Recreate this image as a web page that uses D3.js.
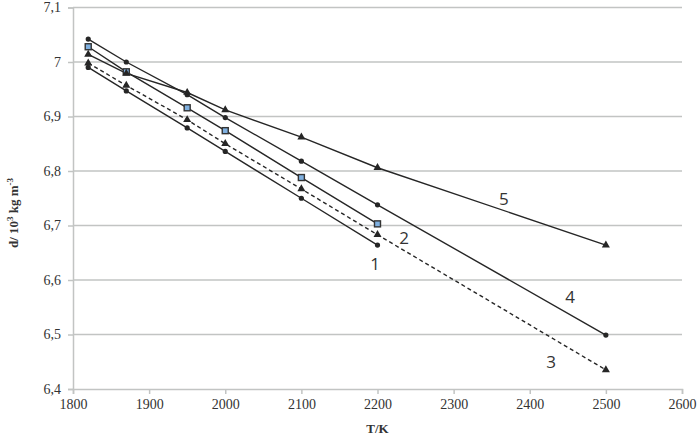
<!DOCTYPE html>
<html>
<head>
<meta charset="utf-8">
<script src="https://cdn.jsdelivr.net/npm/d3@7"></script>
<style>
  html, body { margin: 0; padding: 0; background: #fff; }
  svg { display: block; }
</style>
</head>
<body>
<svg id="chart" width="700" height="437"></svg>
<script>
// ---- data ----
const temps = [1820, 1870, 1950, 2000, 2100, 2200, 2500];
const series1 = [6.990, 6.947, 6.879, 6.836, 6.750, 6.664, null];
const series2 = [7.028, 6.982, 6.916, 6.874, 6.788, 6.703, null];
const series3 = [6.998, 6.957, 6.894, 6.850, 6.767, 6.683, 6.435];
const series4 = [7.042, 7.000, 6.940, 6.898, 6.818, 6.738, 6.499];
const series5 = [7.014, 6.979, 6.944, 6.912, 6.862, 6.806, 6.664];
const seriesNames = ["1", "2", "3", "4", "5"];
const labelPos = [[2197, 6.630], [2235, 6.678], [2428, 6.450], [2453, 6.569], [2366, 6.750]];
const xTicks = [1800, 1900, 2000, 2100, 2200, 2300, 2400, 2500, 2600];
const yTicks = [6.4, 6.5, 6.6, 6.7, 6.8, 6.9, 7.0, 7.1];

const allSeries = [series1, series2, series3, series4, series5];
const markers = ["circle", "square", "triangle", "circle", "triangle"];
const dashed = [false, false, true, false, false];

const svg = d3.select("#chart");
const margin = {left: 73, right: 18, top: 7.5, bottom: 48};
const W = 700, H = 437;
const x = d3.scaleLinear().domain([1800, 2600]).range([margin.left, W - margin.right]);
const y = d3.scaleLinear().domain([6.4, 7.1]).range([H - margin.bottom, margin.top]);

const fmt = v => (Math.abs(v - 7) < 1e-9 ? "7" : d3.format(".1f")(v).replace(".", ","));

// gridlines
svg.append("g").selectAll("line").data(yTicks.filter(v => v > 6.4)).join("line")
  .attr("x1", x(1800)).attr("x2", x(2600))
  .attr("y1", d => y(d)).attr("y2", d => y(d))
  .attr("stroke", "#c2c4c3").attr("stroke-width", 1.5);

// y axis
const yAxis = svg.append("g").attr("transform", `translate(${x(1800)},0)`)
  .call(d3.axisLeft(y).tickValues(yTicks).tickFormat(fmt).tickSize(5).tickPadding(7));
// x axis
const xAxis = svg.append("g").attr("transform", `translate(0,${y(6.4)})`)
  .call(d3.axisBottom(x).tickValues(xTicks).tickFormat(d3.format("d")).tickSize(5).tickPadding(5));

[yAxis, xAxis].forEach(a => {
  a.select(".domain").attr("stroke", "#c2c4c3").attr("stroke-width", 1.5);
  a.selectAll(".tick line").attr("stroke", "#c2c4c3").attr("stroke-width", 1.5);
  a.selectAll(".tick text").attr("fill", "#333")
    .attr("font-family", "'Liberation Serif', 'Times New Roman', serif")
    .attr("font-size", 14);
});

// axis titles
svg.append("text")
  .attr("x", x(2200)).attr("y", 428)
  .attr("text-anchor", "middle").attr("dominant-baseline", "central")
  .attr("font-family", "'Liberation Serif', 'Times New Roman', serif")
  .attr("font-size", 13).attr("font-weight", "bold").attr("fill", "#333")
  .text("T/K");

const yt = svg.append("text")
  .attr("transform", "translate(18,213) rotate(-90)")
  .attr("text-anchor", "middle")
  .attr("font-family", "'Liberation Serif', 'Times New Roman', serif")
  .attr("font-size", 13).attr("font-weight", "bold").attr("fill", "#333");
yt.append("tspan").text("d/ 10");
yt.append("tspan").attr("dy", -5).attr("font-size", 9).text("3");
yt.append("tspan").attr("dy", 5).text(" kg m");
yt.append("tspan").attr("dy", -5).attr("font-size", 9).text("-3");

// lines
const line = d3.line()
  .defined(d => d[1] != null)
  .x(d => x(d[0])).y(d => y(d[1]));

allSeries.forEach((s, i) => {
  const pts = temps.map((t, j) => [t, s[j]]).filter(d => d[1] != null);
  svg.append("path").datum(pts)
    .attr("d", line)
    .attr("fill", "none").attr("stroke", "#262626").attr("stroke-width", 1.4)
    .attr("stroke-dasharray", dashed[i] ? "4,3" : null);
});

// markers
allSeries.forEach((s, i) => {
  const pts = temps.map((t, j) => [t, s[j]]).filter(d => d[1] != null);
  const g = svg.append("g");
  if (markers[i] === "circle") {
    g.selectAll("circle").data(pts).join("circle")
      .attr("cx", d => x(d[0])).attr("cy", d => y(d[1])).attr("r", 2.6)
      .attr("fill", "#262626");
  } else if (markers[i] === "square") {
    g.selectAll("rect").data(pts).join("rect")
      .attr("x", d => x(d[0]) - 3).attr("y", d => y(d[1]) - 3)
      .attr("width", 6).attr("height", 6)
      .attr("fill", "#7fb0e0").attr("stroke", "#333").attr("stroke-width", 1.4);
  } else {
    g.selectAll("path").data(pts).join("path")
      .attr("transform", d => `translate(${x(d[0])},${y(d[1])})`)
      .attr("d", d3.symbol(d3.symbolTriangle, 28))
      .attr("fill", "#262626");
  }
});

// series labels
svg.append("g").selectAll("text").data(seriesNames).join("text")
  .attr("x", (d, i) => x(labelPos[i][0]))
  .attr("y", (d, i) => y(labelPos[i][1]))
  .attr("text-anchor", "middle").attr("dominant-baseline", "central")
  .attr("font-family", "'Open Sans', 'DejaVu Sans', sans-serif")
  .attr("font-size", 17).attr("fill", "#333")
  .text(d => d);
</script>
</body>
</html>
